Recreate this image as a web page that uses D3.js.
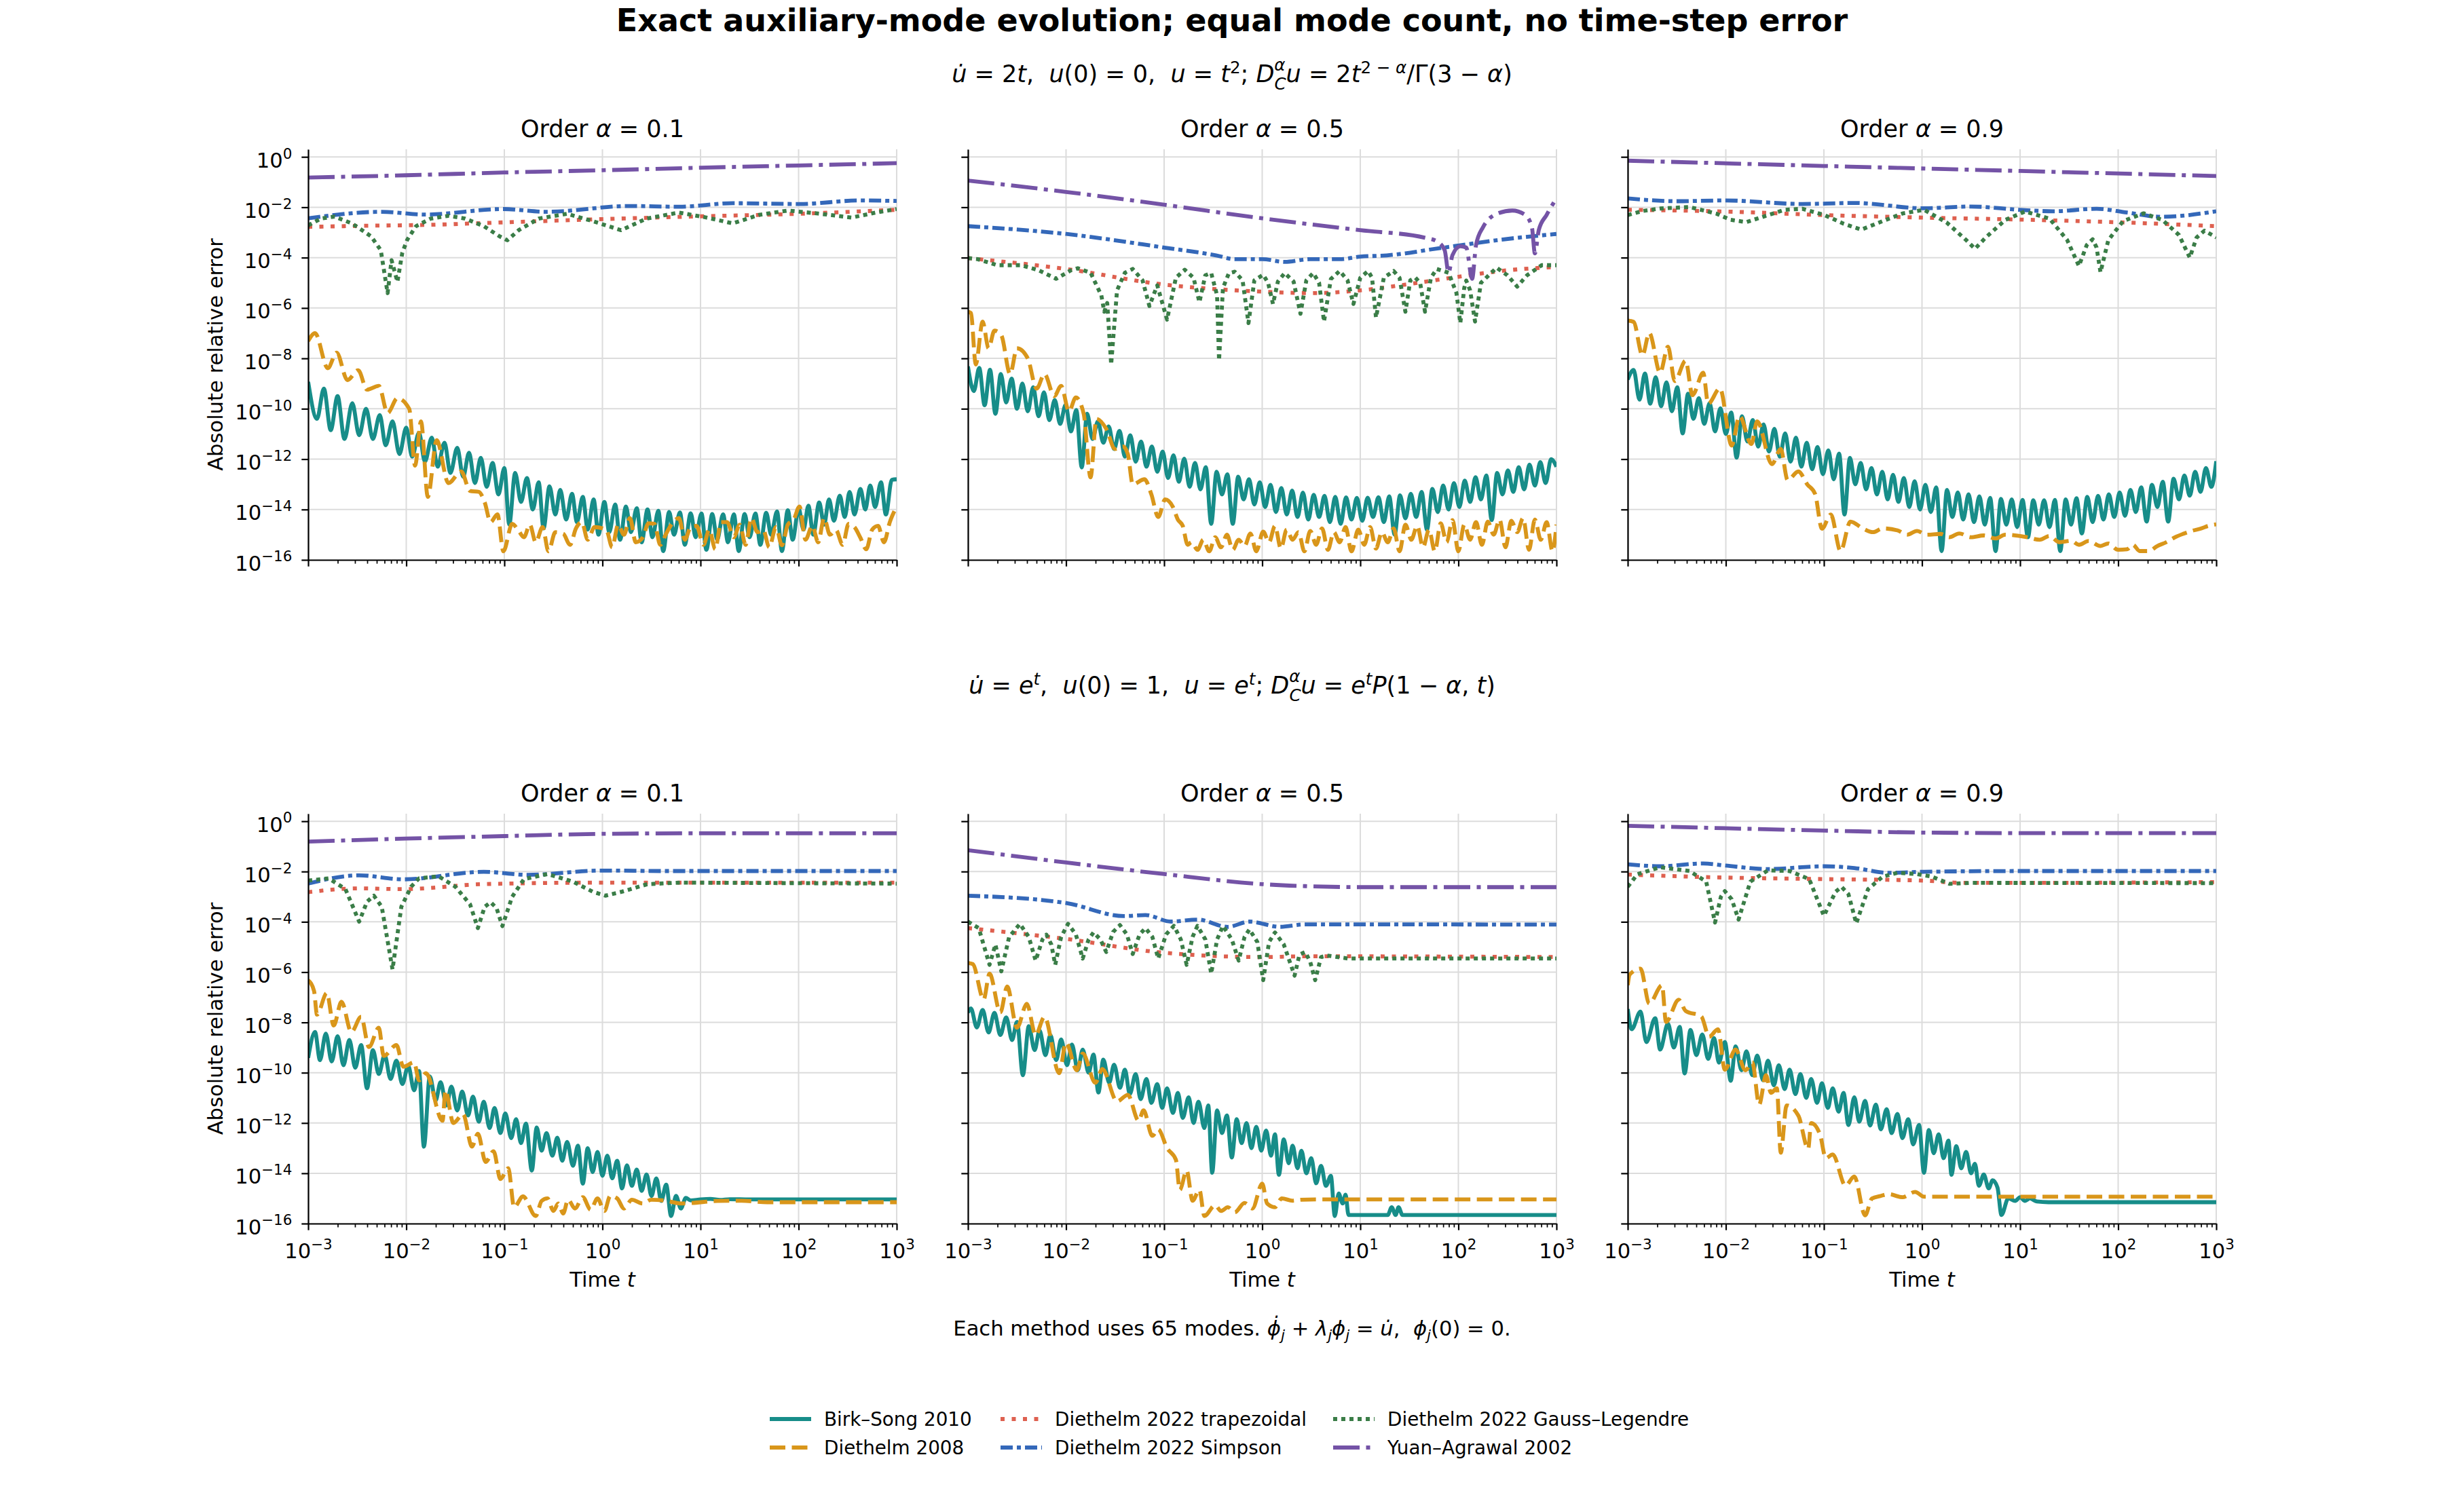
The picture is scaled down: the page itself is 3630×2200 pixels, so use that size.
<!DOCTYPE html>
<html>
<head>
<meta charset="utf-8">
<script src="https://cdn.jsdelivr.net/npm/d3@7"></script>
<style>
body { margin: 0; background: #fff; overflow: hidden; }
text { font-family: "DejaVu Sans", sans-serif; white-space: pre; }
</style>
</head>
<body>
<svg id="chart" width="3630" height="2200"></svg>
<script>
// values are log10(t), log10(error)

// --- row 1: u = t^2 ---
var p01_bs = [[-3.00,-8.93],[-2.91,-10.40],[-2.84,-9.20],[-2.77,-10.85],[-2.70,-9.50],[-2.63,-11.20],[-2.55,-9.78],[-2.48,-11.05],[-2.41,-10.00],[-2.34,-11.20],[-2.27,-10.25],[-2.21,-11.45],[-2.14,-10.50],[-2.07,-11.80],[-2.00,-10.75],[-1.94,-11.90],[-1.87,-10.95],[-1.81,-12.10],[-1.74,-11.15],[-1.68,-12.30],[-1.61,-11.35],[-1.55,-12.55],[-1.48,-11.55],[-1.42,-12.70],[-1.36,-11.75],[-1.30,-12.95],[-1.24,-11.95],[-1.18,-13.10],[-1.12,-12.15],[-1.06,-13.40],[-1.00,-12.35],[-0.95,-14.60],[-0.89,-12.55],[-0.83,-13.70],[-0.77,-12.75],[-0.71,-14.00],[-0.65,-12.92],[-0.60,-14.75],[-0.54,-13.08],[-0.48,-14.20],[-0.43,-13.22],[-0.37,-14.40],[-0.31,-13.38],[-0.26,-14.50],[-0.20,-13.50],[-0.15,-14.80],[-0.09,-13.60],[-0.04,-15.00],[0.02,-13.70],[0.07,-14.90],[0.13,-13.80],[0.18,-15.20],[0.24,-13.88],[0.29,-14.90],[0.35,-13.95],[0.40,-15.30],[0.46,-14.00],[0.51,-15.10],[0.57,-14.05],[0.62,-15.65],[0.68,-14.10],[0.73,-15.00],[0.79,-14.12],[0.84,-15.40],[0.90,-14.15],[0.95,-15.10],[1.01,-14.16],[1.06,-15.60],[1.12,-14.18],[1.17,-15.20],[1.23,-14.19],[1.28,-15.30],[1.34,-14.19],[1.39,-15.65],[1.45,-14.18],[1.50,-15.10],[1.56,-14.16],[1.61,-15.40],[1.67,-14.13],[1.72,-15.00],[1.78,-14.08],[1.83,-15.65],[1.89,-14.03],[1.94,-15.20],[2.00,-13.95],[2.05,-14.80],[2.10,-13.85],[2.15,-15.00],[2.21,-13.72],[2.26,-14.60],[2.31,-13.60],[2.36,-14.45],[2.42,-13.45],[2.47,-14.30],[2.52,-13.30],[2.57,-14.20],[2.63,-13.18],[2.68,-14.00],[2.73,-13.05],[2.78,-13.90],[2.84,-12.92],[2.89,-14.20],[2.95,-12.82],[3.00,-12.80]];
var p01_d08 = [[-3.00,-7.31],[-2.93,-7.00],[-2.80,-8.39],[-2.71,-7.77],[-2.60,-8.86],[-2.49,-8.47],[-2.40,-9.24],[-2.28,-9.09],[-2.19,-10.17],[-2.09,-9.58],[-1.97,-10.00],[-1.91,-12.26],[-1.85,-10.50],[-1.78,-13.50],[-1.69,-11.25],[-1.57,-12.95],[-1.44,-12.49],[-1.35,-13.26],[-1.26,-13.30],[-1.20,-13.72],[-1.14,-14.50],[-1.07,-14.19],[-1.01,-15.66],[-0.92,-14.57],[-0.86,-14.81],[-0.80,-15.10],[-0.74,-14.60],[-0.68,-15.30],[-0.61,-14.70],[-0.55,-15.66],[-0.48,-14.90],[-0.40,-14.96],[-0.33,-15.40],[-0.27,-14.75],[-0.21,-14.50],[-0.15,-15.20],[-0.08,-14.70],[0.04,-14.81],[0.10,-15.50],[0.16,-14.60],[0.22,-15.00],[0.28,-14.34],[0.34,-15.30],[0.41,-15.12],[0.47,-14.55],[0.53,-14.57],[0.59,-15.40],[0.65,-14.96],[0.72,-14.50],[0.78,-14.34],[0.84,-15.20],[0.90,-14.70],[0.96,-14.65],[1.03,-15.40],[1.09,-14.80],[1.15,-15.58],[1.21,-14.50],[1.27,-14.50],[1.34,-15.10],[1.40,-14.60],[1.46,-15.40],[1.52,-14.34],[1.58,-14.90],[1.64,-14.81],[1.70,-15.50],[1.77,-14.70],[1.83,-15.42],[1.89,-14.60],[1.95,-14.40],[2.01,-13.88],[2.07,-15.20],[2.14,-14.65],[2.20,-15.30],[2.26,-14.34],[2.32,-15.00],[2.38,-14.81],[2.45,-15.40],[2.51,-14.57],[2.57,-14.70],[2.63,-15.12],[2.69,-15.58],[2.75,-14.80],[2.81,-14.65],[2.87,-15.30],[2.93,-14.50],[3.00,-13.88]];
var p01_trap = [[-3.00,-2.78],[-2.50,-2.74],[-1.80,-2.70],[-1.00,-2.60],[0.00,-2.47],[1.00,-2.36],[2.00,-2.26],[3.00,-2.10]];
var p01_simp = [[-3.00,-2.44],[-2.25,-2.18],[-1.81,-2.29],[-1.01,-2.07],[-0.58,-2.18],[0.28,-1.95],[0.78,-1.98],[1.33,-1.84],[2.01,-1.87],[2.63,-1.73],[3.00,-1.75]];
var p01_gl = [[-3.00,-2.72],[-2.87,-2.45],[-2.73,-2.37],[-2.55,-2.65],[-2.36,-3.15],[-2.26,-3.70],[-2.19,-5.41],[-2.15,-4.10],[-2.09,-4.96],[-2.04,-3.80],[-1.99,-3.29],[-1.90,-2.75],[-1.75,-2.45],[-1.57,-2.34],[-1.40,-2.45],[-1.21,-2.75],[-1.05,-3.15],[-0.97,-3.31],[-0.85,-2.90],[-0.65,-2.45],[-0.36,-2.26],[-0.10,-2.55],[0.19,-2.91],[0.45,-2.45],[0.78,-2.21],[1.05,-2.40],[1.33,-2.64],[1.60,-2.30],[1.89,-2.13],[2.20,-2.25],[2.54,-2.41],[2.80,-2.20],[3.00,-2.07]];
var p01_ya = [[-3.00,-0.82],[-2.00,-0.73],[-1.00,-0.62],[0.00,-0.53],[1.00,-0.43],[2.00,-0.34],[3.00,-0.25]];

var p05_bs = [[-3.00,-8.32],[-2.94,-9.30],[-2.885,-8.38],[-2.83,-9.86],[-2.775,-8.45],[-2.72,-10.20],[-2.665,-8.62],[-2.61,-9.75],[-2.555,-8.80],[-2.50,-10.00],[-2.445,-9.00],[-2.39,-10.10],[-2.335,-9.15],[-2.28,-10.30],[-2.225,-9.35],[-2.17,-10.45],[-2.115,-9.65],[-2.06,-10.60],[-2.005,-9.85],[-1.95,-10.90],[-1.895,-10.05],[-1.84,-12.33],[-1.785,-10.20],[-1.73,-11.20],[-1.675,-10.50],[-1.62,-11.35],[-1.565,-10.70],[-1.51,-11.60],[-1.455,-10.88],[-1.40,-11.90],[-1.345,-11.05],[-1.29,-12.10],[-1.235,-11.30],[-1.18,-12.30],[-1.125,-11.50],[-1.07,-12.50],[-1.015,-11.70],[-0.96,-12.75],[-0.905,-11.85],[-0.85,-12.90],[-0.795,-11.98],[-0.74,-13.10],[-0.685,-12.15],[-0.63,-13.20],[-0.575,-12.32],[-0.52,-14.57],[-0.465,-12.50],[-0.41,-13.40],[-0.355,-12.60],[-0.30,-14.57],[-0.245,-12.70],[-0.19,-13.60],[-0.135,-12.80],[-0.08,-13.80],[-0.025,-12.92],[0.03,-13.90],[0.085,-13.02],[0.14,-14.10],[0.195,-13.15],[0.25,-14.20],[0.305,-13.25],[0.36,-14.30],[0.415,-13.33],[0.47,-14.40],[0.525,-13.42],[0.58,-14.30],[0.635,-13.46],[0.69,-14.50],[0.745,-13.50],[0.80,-14.57],[0.855,-13.52],[0.91,-14.40],[0.965,-13.54],[1.02,-14.45],[1.075,-13.53],[1.13,-14.30],[1.185,-13.51],[1.24,-14.50],[1.295,-13.48],[1.35,-15.00],[1.405,-13.44],[1.46,-14.35],[1.515,-13.38],[1.57,-14.30],[1.625,-13.30],[1.68,-14.80],[1.735,-13.18],[1.79,-14.10],[1.845,-13.05],[1.90,-14.00],[1.955,-12.95],[2.01,-13.90],[2.065,-12.85],[2.12,-13.70],[2.175,-12.72],[2.23,-13.60],[2.285,-12.65],[2.34,-14.42],[2.395,-12.55],[2.45,-13.40],[2.505,-12.45],[2.56,-13.30],[2.615,-12.32],[2.67,-13.20],[2.725,-12.22],[2.78,-13.05],[2.835,-12.12],[2.89,-12.95],[2.945,-12.00],[3.00,-12.30]];
var p05_d08 = [[-3.00,-6.15],[-2.97,-6.20],[-2.92,-8.24],[-2.85,-6.54],[-2.79,-7.60],[-2.73,-6.90],[-2.66,-7.08],[-2.57,-8.62],[-2.50,-7.60],[-2.39,-8.00],[-2.30,-9.20],[-2.22,-8.62],[-2.12,-9.50],[-2.05,-9.09],[-1.97,-10.10],[-1.90,-9.55],[-1.82,-10.20],[-1.75,-12.72],[-1.69,-10.40],[-1.59,-10.80],[-1.50,-11.60],[-1.42,-11.50],[-1.37,-11.80],[-1.32,-13.00],[-1.20,-12.80],[-1.13,-13.40],[-1.06,-14.30],[-0.99,-13.60],[-0.91,-13.90],[-0.86,-14.40],[-0.81,-14.65],[-0.76,-15.40],[-0.72,-15.30],[-0.66,-15.60],[-0.60,-15.20],[-0.54,-15.66],[-0.48,-15.10],[-0.42,-15.50],[-0.36,-15.00],[-0.30,-15.60],[-0.24,-15.20],[-0.18,-15.45],[-0.12,-14.95],[-0.06,-15.66],[0.01,-14.88],[0.07,-15.30],[0.13,-14.65],[0.19,-15.55],[0.25,-14.80],[0.31,-15.20],[0.37,-14.90],[0.43,-15.66],[0.49,-14.85],[0.55,-15.40],[0.61,-14.75],[0.67,-15.60],[0.73,-14.90],[0.79,-15.30],[0.85,-14.70],[0.91,-15.66],[0.98,-14.80],[1.04,-15.40],[1.10,-14.70],[1.16,-15.55],[1.22,-14.90],[1.28,-15.30],[1.34,-14.75],[1.40,-15.66],[1.46,-14.60],[1.52,-15.20],[1.58,-14.65],[1.64,-15.50],[1.70,-14.80],[1.76,-15.66],[1.82,-14.55],[1.88,-15.30],[1.94,-14.42],[2.00,-15.66],[2.06,-14.60],[2.12,-15.20],[2.18,-14.50],[2.24,-15.40],[2.30,-14.48],[2.36,-15.00],[2.42,-14.40],[2.48,-15.50],[2.54,-14.45],[2.60,-14.90],[2.66,-14.34],[2.72,-15.60],[2.78,-14.40],[2.84,-15.20],[2.90,-14.50],[2.96,-15.66],[3.00,-14.60]];
var p05_trap = [[-3.00,-4.02],[-2.00,-4.45],[-1.00,-5.07],[-0.47,-5.25],[0.00,-5.35],[0.49,-5.41],[1.00,-5.30],[1.46,-5.07],[2.00,-4.76],[2.43,-4.53],[3.00,-4.37]];
var p05_simp = [[-3.00,-2.75],[-2.00,-3.06],[-1.00,-3.60],[-0.47,-3.91],[-0.28,-4.06],[0.00,-4.06],[0.23,-4.17],[0.49,-4.06],[0.79,-4.06],[1.00,-3.96],[1.27,-3.91],[1.46,-3.83],[1.71,-3.68],[2.00,-3.52],[2.43,-3.29],[3.00,-3.06]];
var p05_gl = [[-3.00,-4.02],[-2.90,-4.06],[-2.70,-4.30],[-2.46,-4.30],[-2.28,-4.50],[-2.10,-4.84],[-1.95,-4.50],[-1.88,-4.42],[-1.75,-4.60],[-1.64,-5.50],[-1.61,-6.15],[-1.58,-5.80],[-1.54,-8.24],[-1.48,-5.30],[-1.40,-4.60],[-1.32,-4.45],[-1.22,-4.90],[-1.15,-5.92],[-1.07,-5.10],[-0.97,-6.46],[-0.88,-4.80],[-0.79,-4.48],[-0.70,-4.80],[-0.64,-5.77],[-0.58,-4.70],[-0.52,-4.61],[-0.46,-5.50],[-0.44,-8.08],[-0.40,-5.20],[-0.34,-4.62],[-0.28,-4.56],[-0.20,-4.90],[-0.14,-6.60],[-0.08,-4.90],[0.01,-4.68],[0.06,-5.00],[0.11,-5.84],[0.16,-4.95],[0.23,-4.61],[0.32,-4.95],[0.39,-6.23],[0.45,-4.90],[0.52,-4.61],[0.58,-5.00],[0.63,-6.54],[0.70,-4.85],[0.79,-4.53],[0.87,-4.90],[0.93,-5.84],[1.00,-4.80],[1.08,-4.53],[1.12,-4.80],[1.16,-6.38],[1.24,-4.80],[1.34,-4.53],[1.40,-4.80],[1.46,-6.15],[1.51,-4.90],[1.56,-4.79],[1.61,-5.00],[1.66,-6.15],[1.72,-4.80],[1.78,-4.45],[1.90,-4.60],[1.98,-5.40],[2.02,-6.60],[2.06,-5.20],[2.08,-4.91],[2.12,-5.30],[2.17,-6.54],[2.23,-5.00],[2.39,-4.40],[2.50,-4.70],[2.60,-5.15],[2.70,-4.70],[2.85,-4.30],[3.00,-4.30]];
var p05_ya = [[-3.00,-0.94],[-2.00,-1.39],[-1.00,-1.90],[0.00,-2.44],[1.00,-2.91],[1.66,-3.21],[1.78,-3.35],[1.86,-3.70],[1.90,-4.60],[1.94,-3.90],[2.02,-3.55],[2.08,-3.60],[2.14,-4.84],[2.18,-3.50],[2.25,-2.80],[2.40,-2.25],[2.55,-2.13],[2.68,-2.30],[2.75,-2.80],[2.78,-3.83],[2.82,-2.90],[2.90,-2.30],[3.00,-1.64]];

var p09_bs = [[-3.00,-8.84],[-2.94,-8.46],[-2.88,-9.64],[-2.825,-8.60],[-2.77,-9.80],[-2.715,-8.75],[-2.66,-9.90],[-2.605,-8.95],[-2.55,-10.10],[-2.495,-9.15],[-2.44,-10.98],[-2.385,-9.40],[-2.33,-10.40],[-2.275,-9.58],[-2.22,-10.60],[-2.165,-9.78],[-2.11,-10.90],[-2.055,-9.98],[-2.00,-11.00],[-1.945,-10.15],[-1.89,-11.94],[-1.835,-10.30],[-1.78,-11.30],[-1.725,-10.45],[-1.67,-11.50],[-1.615,-10.62],[-1.56,-11.70],[-1.505,-10.80],[-1.45,-11.90],[-1.395,-10.98],[-1.34,-12.10],[-1.285,-11.15],[-1.23,-12.30],[-1.175,-11.35],[-1.12,-12.40],[-1.065,-11.52],[-1.01,-12.60],[-0.955,-11.65],[-0.90,-12.80],[-0.845,-11.78],[-0.79,-14.20],[-0.735,-11.95],[-0.68,-13.00],[-0.625,-12.15],[-0.57,-13.20],[-0.515,-12.35],[-0.46,-13.40],[-0.405,-12.50],[-0.35,-13.60],[-0.295,-12.62],[-0.24,-13.70],[-0.185,-12.75],[-0.13,-13.90],[-0.075,-12.88],[-0.02,-14.00],[0.035,-13.02],[0.09,-14.10],[0.145,-13.12],[0.20,-15.65],[0.255,-13.22],[0.31,-14.30],[0.365,-13.32],[0.42,-14.40],[0.475,-13.40],[0.53,-14.50],[0.585,-13.48],[0.64,-14.60],[0.695,-13.54],[0.75,-15.65],[0.805,-13.58],[0.86,-14.60],[0.915,-13.60],[0.97,-14.70],[1.025,-13.62],[1.08,-15.10],[1.135,-13.63],[1.19,-14.60],[1.245,-13.63],[1.30,-14.70],[1.355,-13.62],[1.41,-15.65],[1.465,-13.60],[1.52,-14.60],[1.575,-13.55],[1.63,-14.95],[1.685,-13.50],[1.74,-14.50],[1.795,-13.46],[1.85,-14.40],[1.905,-13.40],[1.96,-14.30],[2.015,-13.32],[2.07,-14.25],[2.125,-13.22],[2.18,-14.10],[2.235,-13.12],[2.29,-14.48],[2.345,-13.02],[2.40,-13.90],[2.455,-12.90],[2.51,-14.48],[2.565,-12.78],[2.62,-13.60],[2.675,-12.65],[2.73,-13.45],[2.785,-12.50],[2.84,-13.30],[2.895,-12.35],[2.95,-13.10],[3.00,-12.08]];
var p09_d08 = [[-3.00,-6.50],[-2.94,-6.55],[-2.85,-7.88],[-2.78,-6.99],[-2.67,-8.57],[-2.59,-7.54],[-2.52,-8.90],[-2.41,-8.09],[-2.34,-9.46],[-2.23,-8.57],[-2.18,-9.80],[-2.06,-9.19],[-1.94,-11.46],[-1.86,-10.29],[-1.74,-11.40],[-1.68,-10.50],[-1.53,-12.20],[-1.44,-11.60],[-1.37,-12.83],[-1.26,-12.49],[-1.17,-13.00],[-1.09,-13.38],[-1.02,-14.76],[-0.93,-14.20],[-0.83,-15.65],[-0.73,-14.48],[-0.60,-14.76],[-0.50,-14.90],[-0.40,-14.75],[-0.25,-14.83],[-0.15,-15.00],[-0.05,-14.85],[0.05,-15.00],[0.19,-14.97],[0.28,-15.10],[0.38,-14.95],[0.50,-15.10],[0.63,-15.03],[0.75,-15.15],[0.85,-15.00],[1.07,-15.10],[1.20,-15.20],[1.30,-15.05],[1.40,-15.30],[1.52,-15.24],[1.60,-15.40],[1.70,-15.25],[1.82,-15.45],[1.90,-15.35],[2.00,-15.60],[2.09,-15.58],[2.15,-15.40],[2.22,-15.65],[2.31,-15.65],[2.40,-15.45],[2.49,-15.30],[2.58,-15.10],[2.66,-14.97],[2.75,-14.85],[2.84,-14.76],[2.92,-14.65],[3.00,-14.59]];
var p09_trap = [[-3.00,-2.10],[-2.00,-2.17],[-1.00,-2.31],[0.00,-2.41],[1.00,-2.49],[1.95,-2.59],[3.00,-2.75]];
var p09_simp = [[-3.00,-1.65],[-2.50,-1.76],[-2.01,-1.73],[-1.22,-1.87],[-0.69,-1.83],[0.02,-2.04],[0.50,-1.97],[0.99,-2.10],[1.34,-2.16],[1.78,-2.06],[2.09,-2.21],[2.44,-2.38],[3.00,-2.16]];
var p09_gl = [[-3.00,-2.31],[-2.85,-2.15],[-2.67,-2.05],[-2.37,-1.99],[-2.10,-2.25],[-1.95,-2.50],[-1.79,-2.59],[-1.60,-2.35],[-1.40,-2.10],[-1.22,-2.06],[-1.00,-2.30],[-0.80,-2.65],[-0.62,-2.89],[-0.40,-2.55],[-0.20,-2.25],[0.02,-2.10],[0.25,-2.60],[0.45,-3.30],[0.54,-3.65],[0.65,-3.20],[0.85,-2.50],[1.05,-2.17],[1.30,-2.45],[1.48,-3.30],[1.60,-4.33],[1.68,-3.50],[1.74,-3.27],[1.78,-3.60],[1.82,-4.58],[1.90,-3.30],[2.05,-2.55],[2.26,-2.24],[2.45,-2.50],[2.62,-3.10],[2.73,-4.00],[2.80,-3.20],[2.88,-2.93],[3.00,-3.20]];
var p09_ya = [[-3.00,-0.15],[-1.00,-0.36],[1.00,-0.56],[3.00,-0.76]];

// --- row 2: u = e^t ---
var e01_bs = [[-3.00,-9.41],[-2.93,-8.38],[-2.88,-9.50],[-2.82,-8.45],[-2.76,-9.55],[-2.70,-8.55],[-2.64,-9.70],[-2.58,-8.70],[-2.52,-9.80],[-2.46,-8.90],[-2.40,-10.62],[-2.34,-9.10],[-2.28,-10.05],[-2.22,-9.30],[-2.16,-10.25],[-2.10,-9.52],[-2.04,-10.45],[-1.98,-9.72],[-1.92,-10.70],[-1.87,-9.93],[-1.82,-12.94],[-1.76,-10.15],[-1.70,-11.10],[-1.65,-10.38],[-1.59,-11.30],[-1.54,-10.55],[-1.48,-11.50],[-1.43,-10.75],[-1.37,-11.70],[-1.32,-10.95],[-1.26,-11.95],[-1.21,-11.15],[-1.15,-12.20],[-1.10,-11.40],[-1.04,-12.40],[-0.99,-11.62],[-0.93,-12.60],[-0.88,-11.85],[-0.83,-12.80],[-0.78,-12.02],[-0.72,-13.89],[-0.67,-12.18],[-0.62,-13.10],[-0.57,-12.40],[-0.51,-13.30],[-0.46,-12.58],[-0.41,-13.50],[-0.36,-12.75],[-0.30,-13.70],[-0.25,-12.90],[-0.20,-14.41],[-0.15,-13.00],[-0.10,-13.95],[-0.05,-13.15],[0.00,-14.10],[0.05,-13.30],[0.10,-14.20],[0.15,-13.50],[0.20,-14.60],[0.25,-13.68],[0.30,-14.50],[0.35,-13.85],[0.40,-14.70],[0.45,-14.05],[0.50,-14.90],[0.55,-14.20],[0.60,-15.10],[0.65,-14.45],[0.70,-15.70],[0.75,-14.90],[0.80,-15.40],[0.85,-14.98],[0.90,-15.08],[1.00,-15.04],[1.10,-15.02],[1.20,-15.06],[1.30,-15.03],[1.50,-15.04],[3.00,-15.04]];
var e01_d08 = [[-3.00,-6.32],[-2.94,-6.75],[-2.91,-7.69],[-2.81,-6.83],[-2.74,-8.12],[-2.66,-7.18],[-2.56,-8.38],[-2.46,-7.78],[-2.38,-8.98],[-2.28,-8.21],[-2.23,-9.33],[-2.10,-8.90],[-2.03,-9.76],[-1.92,-9.59],[-1.87,-10.30],[-1.80,-10.02],[-1.63,-11.91],[-1.60,-10.71],[-1.52,-12.00],[-1.42,-11.65],[-1.33,-12.94],[-1.27,-12.43],[-1.19,-13.55],[-1.11,-13.12],[-1.04,-14.23],[-0.96,-13.80],[-0.90,-15.35],[-0.81,-14.92],[-0.68,-15.70],[-0.62,-15.10],[-0.56,-15.00],[-0.50,-15.50],[-0.45,-15.20],[-0.40,-15.60],[-0.35,-15.05],[-0.28,-15.40],[-0.20,-14.95],[-0.12,-15.45],[-0.05,-15.00],[0.02,-15.50],[0.08,-14.90],[0.15,-15.00],[0.22,-15.40],[0.30,-15.05],[0.41,-15.20],[0.50,-15.05],[0.66,-15.10],[0.80,-15.20],[0.91,-15.18],[1.17,-15.10],[1.42,-15.09],[1.68,-15.15],[3.00,-15.15]];
var e01_trap = [[-3.00,-2.82],[-2.48,-2.67],[-2.03,-2.70],[-1.21,-2.50],[0.00,-2.44],[3.00,-2.44]];
var e01_simp = [[-3.00,-2.48],[-2.48,-2.15],[-2.03,-2.31],[-1.21,-2.01],[-0.76,-2.13],[0.00,-1.96],[0.66,-1.98],[3.00,-1.98]];
var e01_gl = [[-3.00,-2.36],[-2.79,-2.27],[-2.62,-2.70],[-2.48,-3.99],[-2.40,-3.20],[-2.33,-2.96],[-2.25,-3.40],[-2.14,-5.89],[-2.05,-3.40],[-1.95,-2.60],[-1.87,-2.27],[-1.67,-2.19],[-1.50,-2.60],[-1.35,-3.30],[-1.27,-4.25],[-1.20,-3.40],[-1.14,-3.22],[-1.08,-3.45],[-1.02,-4.17],[-0.92,-3.00],[-0.80,-2.30],[-0.56,-2.10],[-0.30,-2.40],[-0.10,-2.80],[0.03,-2.96],[0.20,-2.80],[0.46,-2.50],[0.80,-2.44],[3.00,-2.48]];
var e01_ya = [[-3.00,-0.81],[-2.00,-0.69],[-1.00,-0.59],[0.00,-0.50],[1.00,-0.48],[3.00,-0.48]];

var e05_bs = [[-3.00,-7.61],[-2.97,-7.44],[-2.91,-8.20],[-2.85,-7.50],[-2.79,-8.40],[-2.73,-7.62],[-2.67,-8.50],[-2.61,-7.80],[-2.55,-8.70],[-2.50,-7.98],[-2.44,-10.10],[-2.38,-8.15],[-2.32,-9.10],[-2.27,-8.32],[-2.21,-9.30],[-2.16,-8.50],[-2.10,-9.50],[-2.05,-8.68],[-1.99,-9.70],[-1.94,-8.88],[-1.88,-9.90],[-1.83,-9.08],[-1.77,-10.00],[-1.72,-9.28],[-1.67,-10.79],[-1.62,-9.48],[-1.56,-10.40],[-1.51,-9.68],[-1.45,-10.60],[-1.40,-9.88],[-1.35,-10.85],[-1.29,-10.05],[-1.24,-11.05],[-1.18,-10.25],[-1.13,-11.20],[-1.07,-10.45],[-1.02,-11.40],[-0.97,-10.62],[-0.91,-11.60],[-0.86,-10.80],[-0.81,-11.80],[-0.75,-10.98],[-0.70,-12.00],[-0.65,-11.15],[-0.59,-12.20],[-0.55,-11.30],[-0.51,-13.98],[-0.46,-11.50],[-0.41,-12.40],[-0.36,-11.70],[-0.31,-13.37],[-0.26,-11.85],[-0.21,-12.80],[-0.16,-12.00],[-0.11,-13.00],[-0.06,-12.15],[-0.01,-13.10],[0.04,-12.30],[0.09,-13.30],[0.13,-12.45],[0.17,-14.06],[0.22,-12.65],[0.27,-13.60],[0.31,-12.90],[0.36,-13.80],[0.40,-13.10],[0.45,-14.00],[0.50,-13.40],[0.55,-14.40],[0.60,-13.70],[0.65,-14.50],[0.70,-14.10],[0.74,-15.70],[0.78,-14.80],[0.82,-15.20],[0.85,-14.85],[0.88,-15.66],[1.28,-15.66],[1.32,-15.35],[1.36,-15.66],[1.39,-15.35],[1.43,-15.66],[3.00,-15.66]];
var e05_d08 = [[-3.00,-5.63],[-2.95,-5.68],[-2.84,-7.09],[-2.78,-6.06],[-2.67,-7.60],[-2.60,-6.57],[-2.50,-8.21],[-2.40,-7.26],[-2.31,-8.50],[-2.22,-7.78],[-2.07,-10.02],[-2.00,-8.81],[-1.89,-9.90],[-1.83,-9.24],[-1.70,-10.40],[-1.63,-9.85],[-1.48,-11.14],[-1.37,-10.88],[-1.26,-11.91],[-1.21,-11.50],[-1.12,-12.51],[-1.06,-12.25],[-0.97,-13.00],[-0.88,-13.46],[-0.84,-14.66],[-0.77,-13.89],[-0.71,-15.09],[-0.64,-14.66],[-0.59,-15.70],[-0.48,-15.27],[-0.42,-15.50],[-0.35,-15.35],[-0.28,-15.55],[-0.18,-15.18],[-0.10,-15.40],[0.00,-14.41],[0.05,-15.20],[0.13,-15.35],[0.20,-15.00],[0.31,-15.09],[0.40,-15.05],[0.57,-15.04],[0.88,-15.04],[3.00,-15.04]];
var e05_trap = [[-3.00,-4.25],[-2.00,-4.68],[-1.00,-5.23],[0.00,-5.40],[0.44,-5.37],[3.00,-5.40]];
var e05_simp = [[-3.00,-2.96],[-2.00,-3.25],[-1.41,-3.77],[-1.19,-3.73],[-0.93,-3.99],[-0.66,-3.91],[-0.35,-4.20],[-0.13,-3.99],[0.18,-4.20],[0.44,-4.10],[3.00,-4.11]];
var e05_gl = [[-3.00,-3.99],[-2.89,-4.25],[-2.78,-5.71],[-2.72,-4.90],[-2.66,-5.97],[-2.58,-4.60],[-2.47,-4.08],[-2.38,-4.60],[-2.31,-5.54],[-2.24,-4.70],[-2.20,-4.51],[-2.15,-4.90],[-2.11,-5.71],[-2.05,-4.60],[-1.98,-4.08],[-1.90,-4.50],[-1.83,-5.46],[-1.77,-4.70],[-1.72,-4.42],[-1.65,-4.70],[-1.59,-5.20],[-1.52,-4.40],[-1.45,-4.13],[-1.38,-4.50],[-1.32,-5.28],[-1.25,-4.50],[-1.19,-4.25],[-1.12,-4.60],[-1.06,-5.46],[-0.98,-4.50],[-0.90,-4.16],[-0.83,-4.70],[-0.77,-5.71],[-0.71,-4.60],[-0.66,-4.16],[-0.58,-4.70],[-0.52,-6.06],[-0.46,-4.70],[-0.40,-4.16],[-0.31,-4.70],[-0.24,-5.54],[-0.18,-4.60],[-0.13,-4.30],[-0.05,-4.80],[0.01,-6.32],[0.07,-4.80],[0.13,-4.42],[0.22,-4.90],[0.33,-6.14],[0.38,-5.30],[0.44,-5.20],[0.49,-5.60],[0.54,-6.32],[0.60,-5.40],[0.66,-5.34],[0.88,-5.46],[3.00,-5.46]];
var e05_ya = [[-3.00,-1.15],[-2.00,-1.64],[-1.00,-2.10],[0.00,-2.50],[0.44,-2.58],[1.00,-2.62],[3.00,-2.62]];

var e09_bs = [[-3.00,-7.47],[-2.96,-8.27],[-2.87,-7.57],[-2.81,-8.78],[-2.72,-7.83],[-2.67,-9.08],[-2.59,-8.05],[-2.53,-9.00],[-2.47,-8.18],[-2.42,-10.03],[-2.36,-8.30],[-2.30,-9.30],[-2.24,-8.48],[-2.18,-9.45],[-2.12,-8.62],[-2.07,-9.60],[-2.01,-8.78],[-1.95,-10.32],[-1.90,-8.95],[-1.84,-9.90],[-1.79,-9.15],[-1.73,-10.10],[-1.68,-9.32],[-1.62,-10.30],[-1.57,-9.52],[-1.51,-10.50],[-1.46,-9.70],[-1.40,-10.65],[-1.35,-9.88],[-1.29,-10.85],[-1.24,-10.05],[-1.18,-11.00],[-1.13,-10.25],[-1.07,-11.20],[-1.02,-10.42],[-0.96,-11.40],[-0.91,-10.62],[-0.85,-11.55],[-0.80,-10.80],[-0.75,-12.08],[-0.69,-10.98],[-0.64,-11.95],[-0.58,-11.12],[-0.53,-12.10],[-0.47,-11.27],[-0.42,-12.25],[-0.36,-11.45],[-0.31,-12.40],[-0.25,-11.64],[-0.20,-12.60],[-0.14,-11.85],[-0.09,-12.85],[-0.03,-12.08],[0.02,-13.98],[0.07,-12.28],[0.12,-13.20],[0.17,-12.45],[0.22,-13.40],[0.27,-12.70],[0.30,-14.06],[0.35,-12.92],[0.40,-13.80],[0.45,-13.15],[0.50,-14.00],[0.54,-13.62],[0.58,-14.50],[0.63,-14.05],[0.68,-14.60],[0.72,-14.28],[0.77,-14.57],[0.81,-15.66],[0.88,-15.00],[0.95,-15.10],[1.00,-14.95],[1.05,-15.10],[1.10,-15.00],[1.17,-15.12],[1.29,-15.15],[3.00,-15.15]];
var e09_d08 = [[-3.00,-6.52],[-2.98,-6.10],[-2.87,-5.86],[-2.78,-7.25],[-2.65,-6.52],[-2.61,-7.98],[-2.48,-7.10],[-2.41,-7.54],[-2.25,-7.76],[-2.17,-8.57],[-2.08,-8.27],[-2.01,-9.88],[-1.90,-9.08],[-1.80,-9.90],[-1.73,-9.59],[-1.66,-11.27],[-1.59,-10.10],[-1.54,-10.80],[-1.48,-10.62],[-1.44,-13.18],[-1.38,-11.30],[-1.26,-11.71],[-1.16,-13.03],[-1.13,-12.00],[-1.04,-12.45],[-0.98,-13.40],[-0.91,-13.25],[-0.78,-14.49],[-0.69,-14.13],[-0.58,-15.67],[-0.51,-15.00],[-0.42,-14.90],[-0.34,-14.83],[-0.20,-14.95],[-0.07,-14.74],[0.02,-14.93],[0.41,-14.93],[3.00,-14.93]];
var e09_trap = [[-3.00,-2.12],[-2.01,-2.24],[-1.00,-2.30],[0.02,-2.36],[0.41,-2.45],[1.00,-2.45],[3.00,-2.42]];
var e09_simp = [[-3.00,-1.71],[-2.67,-1.79],[-2.23,-1.68],[-2.01,-1.76],[-1.57,-1.90],[-1.00,-1.79],[-0.69,-1.86],[-0.34,-2.05],[0.02,-2.01],[1.00,-1.98],[3.00,-1.98]];
var e09_gl = [[-3.00,-2.61],[-2.90,-2.10],[-2.67,-1.83],[-2.37,-1.98],[-2.20,-2.40],[-2.11,-4.03],[-2.05,-3.00],[-2.01,-2.78],[-1.94,-3.10],[-1.87,-3.91],[-1.75,-2.40],[-1.57,-1.95],[-1.35,-1.98],[-1.15,-2.30],[-1.00,-3.76],[-0.88,-2.80],[-0.82,-2.61],[-0.75,-2.90],[-0.67,-4.06],[-0.55,-2.70],[-0.40,-2.20],[-0.25,-2.05],[-0.05,-2.10],[0.10,-2.20],[0.28,-2.49],[0.50,-2.45],[3.00,-2.46]];
var e09_ya = [[-3.00,-0.18],[-1.00,-0.37],[0.00,-0.45],[1.00,-0.47],[3.00,-0.47]];

var methodNames = ["Birk\u2013Song 2010", "Diethelm 2008", "Diethelm 2022 trapezoidal",
                   "Diethelm 2022 Simpson", "Diethelm 2022 Gauss\u2013Legendre", "Yuan\u2013Agrawal 2002"];
var methodColors = ["#178d89", "#d9961a", "#de604f", "#3468b9", "#3a7d47", "#7453a6"];
var orders = [0.1, 0.5, 0.9];
var xTickExp = [-3, -2, -1, 0, 1, 2, 3];
var yTickExp = [-16, -14, -12, -10, -8, -6, -4, -2, 0];

var rowSeries = [
  [[p01_bs, p01_d08, p01_trap, p01_simp, p01_gl, p01_ya],
   [p05_bs, p05_d08, p05_trap, p05_simp, p05_gl, p05_ya],
   [p09_bs, p09_d08, p09_trap, p09_simp, p09_gl, p09_ya]],
  [[e01_bs, e01_d08, e01_trap, e01_simp, e01_gl, e01_ya],
   [e05_bs, e05_d08, e05_trap, e05_simp, e05_gl, e05_ya],
   [e09_bs, e09_d08, e09_trap, e09_simp, e09_gl, e09_ya]]
];

// styles
var lw = 5.8;
var dashes = [null, "23,9.5", "6,10.5", "18,6,6,6", "6,6", "39,9.5,6,9.5"];
var smooth = [true, true, true, true, false, true];

var svg = d3.select("#chart");
svg.append("rect").attr("width", 3630).attr("height", 2200).attr("fill", "#fff");

var panelLeft = [454, 1426, 2398], panelW = 867;
var rowTop = [220, 1199], rowBottom = [825, 1803];

// little mathtext helper: parts with italic / sup / sub (sh = custom shift)
function mtext(sel, parts, size) {
  var shift = 0;
  parts.forEach(function(p) {
    var ts = sel.append("tspan").text(p.t);
    var target = p.sh !== undefined ? p.sh : (p.sup ? -0.38 * size : (p.sub ? 0.22 * size : 0));
    if (target !== shift) { ts.attr("dy", target - shift); shift = target; }
    if (p.sup || p.sub) ts.attr("font-size", 0.7 * size);
    if (p.i) ts.attr("font-style", "italic");
    if (p.dx) ts.attr("dx", p.dx);
  });
}
function powLabel(sel, e, size) {
  sel.text(null);
  sel.append("tspan").text("10");
  sel.append("tspan").attr("dy", -0.43 * size).attr("font-size", 0.7 * size)
     .text(e < 0 ? "\u2212" + (-e) : String(e));
}

var tickFs = 30.6;
var minorX = [];
for (var d = -3; d < 3; d++) for (var k = 2; k < 10; k++) minorX.push(k * Math.pow(10, d));

rowSeries.forEach(function(panels, r) {
  panels.forEach(function(series, c) {
    var x = d3.scaleLog().domain([1e-3, 1e3]).range([panelLeft[c], panelLeft[c] + panelW]);
    var y = d3.scaleLog().domain([1e-16, 2]).range([rowBottom[r], rowTop[r]]);
    var g = svg.append("g");

    // grid
    g.append("g").selectAll("line").data(xTickExp).enter().append("line")
      .attr("x1", function(e) { return x(Math.pow(10, e)); })
      .attr("x2", function(e) { return x(Math.pow(10, e)); })
      .attr("y1", rowTop[r]).attr("y2", rowBottom[r])
      .attr("stroke", "#dcdcdc").attr("stroke-width", 2);
    g.append("g").selectAll("line").data(yTickExp).enter().append("line")
      .attr("y1", function(e) { return y(Math.pow(10, e)); })
      .attr("y2", function(e) { return y(Math.pow(10, e)); })
      .attr("x1", panelLeft[c]).attr("x2", panelLeft[c] + panelW)
      .attr("stroke", "#dcdcdc").attr("stroke-width", 2);

    // clip
    var cid = "clip" + r + c;
    svg.append("clipPath").attr("id", cid).append("rect")
      .attr("x", panelLeft[c]).attr("y", rowTop[r])
      .attr("width", panelW).attr("height", rowBottom[r] - rowTop[r]);

    var lines = g.append("g").attr("clip-path", "url(#" + cid + ")");
    series.forEach(function(s, m) {
      var pts = s.map(function(p) { return [Math.pow(10, p[0]), Math.pow(10, p[1])]; });
      var line = d3.line()
        .x(function(p) { return x(p[0]); })
        .y(function(p) { return y(p[1]); })
        .curve(smooth[m] ? d3.curveMonotoneX : d3.curveLinear);
      lines.append("path").datum(pts)
        .attr("d", line)
        .attr("fill", "none")
        .attr("stroke", methodColors[m])
        .attr("stroke-width", lw)
        .attr("stroke-linejoin", "round")
        .attr("stroke-dasharray", dashes[m]);
    });

    // x axis (minor + major)
    var gx = g.append("g").attr("transform", "translate(0," + rowBottom[r] + ")")
      .call(d3.axisBottom(x).tickValues(minorX).tickSize(5.6).tickSizeOuter(0).tickFormat(""));
    gx.select(".domain").remove();
    gx.selectAll(".tick line").attr("stroke", "#000").attr("stroke-width", 1.7);

    var gX = g.append("g").attr("transform", "translate(0," + rowBottom[r] + ")")
      .call(d3.axisBottom(x).tickValues(xTickExp.map(function(e) { return Math.pow(10, e); }))
        .tickSize(9.7).tickSizeOuter(0).tickPadding(19.5).tickFormat(""));
    gX.select(".domain").attr("stroke", "#000").attr("stroke-width", 2.2);
    gX.selectAll(".tick line").attr("stroke", "#000").attr("stroke-width", 2.2);
    gX.selectAll(".tick text").attr("fill", "#000").attr("font-size", tickFs)
      .attr("font-family", "DejaVu Sans")
      .each(function(v) { if (r === 1) powLabel(d3.select(this), Math.round(Math.log10(v)), tickFs); });

    // y axis
    var gY = g.append("g").attr("transform", "translate(" + panelLeft[c] + ",0)")
      .call(d3.axisLeft(y).tickValues(yTickExp.map(function(e) { return Math.pow(10, e); }))
        .tickSize(9.7).tickSizeOuter(0).tickPadding(14).tickFormat(""));
    gY.select(".domain").attr("stroke", "#000").attr("stroke-width", 2.2);
    gY.selectAll(".tick line").attr("stroke", "#000").attr("stroke-width", 2.2);
    gY.selectAll(".tick text").attr("fill", "#000").attr("font-size", tickFs)
      .attr("font-family", "DejaVu Sans").attr("dy", "0.49em")
      .each(function(v) { if (c === 0) powLabel(d3.select(this), Math.round(Math.log10(v)), tickFs); });

    // panel title
    var cx = panelLeft[c] + panelW / 2;
    var tt = g.append("text").attr("x", cx).attr("y", rowTop[r] - 18)
      .attr("text-anchor", "middle").attr("font-size", 35).attr("fill", "#000");
    mtext(tt, [{t: "Order "}, {t: "\u03b1", i: 1}, {t: " = " + orders[c]}], 35);

    if (r === 1) {
      var xl = g.append("text").attr("x", cx).attr("y", 1896)
        .attr("text-anchor", "middle").attr("font-size", 30.6).attr("fill", "#000");
      mtext(xl, [{t: "Time "}, {t: "t", i: 1}], 30.6);
    }
    if (c === 0) {
      g.append("text")
        .attr("transform", "translate(328," + ((rowTop[r] + rowBottom[r]) / 2) + ") rotate(-90)")
        .attr("text-anchor", "middle").attr("font-size", 30.6).attr("fill", "#000")
        .text("Absolute relative error");
    }
  });
});

// headings
svg.append("text").attr("x", 1815).attr("y", 46).attr("text-anchor", "middle")
  .attr("font-size", 46).attr("font-weight", "bold").attr("fill", "#000")
  .text("Exact auxiliary-mode evolution; equal mode count, no time-step error");

var s1 = svg.append("text").attr("x", 1815).attr("y", 121).attr("text-anchor", "middle")
  .attr("font-size", 35).attr("fill", "#000");
mtext(s1, [{t: "u\u0307", i: 1}, {t: " = 2"}, {t: "t", i: 1}, {t: ",  "}, {t: "u", i: 1},
  {t: "(0) = 0,  "}, {t: "u", i: 1}, {t: " = "}, {t: "t", i: 1}, {t: "2", sup: 1}, {t: "; "},
  {t: "D", i: 1}, {t: "\u03b1", i: 1, sup: 1, sh: -17}, {t: "C", i: 1, sub: 1, sh: 11, dx: -16}, {t: "u", i: 1},
  {t: " = 2"}, {t: "t", i: 1}, {t: "2 \u2212 ", sup: 1}, {t: "\u03b1", i: 1, sup: 1},
  {t: "/\u0393(3 \u2212 "}, {t: "\u03b1", i: 1}, {t: ")"}], 35);

var s2 = svg.append("text").attr("x", 1815).attr("y", 1022).attr("text-anchor", "middle")
  .attr("font-size", 35).attr("fill", "#000");
mtext(s2, [{t: "u\u0307", i: 1}, {t: " = "}, {t: "e", i: 1}, {t: "t", i: 1, sup: 1}, {t: ",  "},
  {t: "u", i: 1}, {t: "(0) = 1,  "}, {t: "u", i: 1}, {t: " = "}, {t: "e", i: 1}, {t: "t", i: 1, sup: 1},
  {t: "; "}, {t: "D", i: 1}, {t: "\u03b1", i: 1, sup: 1, sh: -17}, {t: "C", i: 1, sub: 1, sh: 11, dx: -16},
  {t: "u", i: 1}, {t: " = "}, {t: "e", i: 1}, {t: "t", i: 1, sup: 1}, {t: "P", i: 1},
  {t: "(1 \u2212 "}, {t: "\u03b1", i: 1}, {t: ", "}, {t: "t", i: 1}, {t: ")"}], 35);

var fn = svg.append("text").attr("x", 1815).attr("y", 1968).attr("text-anchor", "middle")
  .attr("font-size", 30.6).attr("fill", "#000");
mtext(fn, [{t: "Each method uses 65 modes. "}, {t: "\u03d5\u0307", i: 1}, {t: "j", i: 1, sub: 1},
  {t: " + "}, {t: "\u03bb", i: 1}, {t: "j", i: 1, sub: 1}, {t: "\u03d5", i: 1}, {t: "j", i: 1, sub: 1},
  {t: " = "}, {t: "u\u0307", i: 1}, {t: ",  "}, {t: "\u03d5", i: 1}, {t: "j", i: 1, sub: 1},
  {t: "(0) = 0."}], 30.6);

// legend
var legX = [1134, 1474, 1964], legY = [2091, 2133];
var leg = svg.append("g");
methodNames.forEach(function(name, m) {
  var lx = legX[Math.floor(m / 2)], ly = legY[m % 2];
  leg.append("line").attr("x1", lx).attr("x2", lx + 61).attr("y1", ly).attr("y2", ly)
    .attr("stroke", methodColors[m]).attr("stroke-width", lw)
    .attr("stroke-dasharray", dashes[m]);
  leg.append("text").attr("x", lx + 80).attr("y", ly + 10).attr("font-size", 27.8)
    .attr("fill", "#000").text(name);
});
</script>
</body>
</html>
